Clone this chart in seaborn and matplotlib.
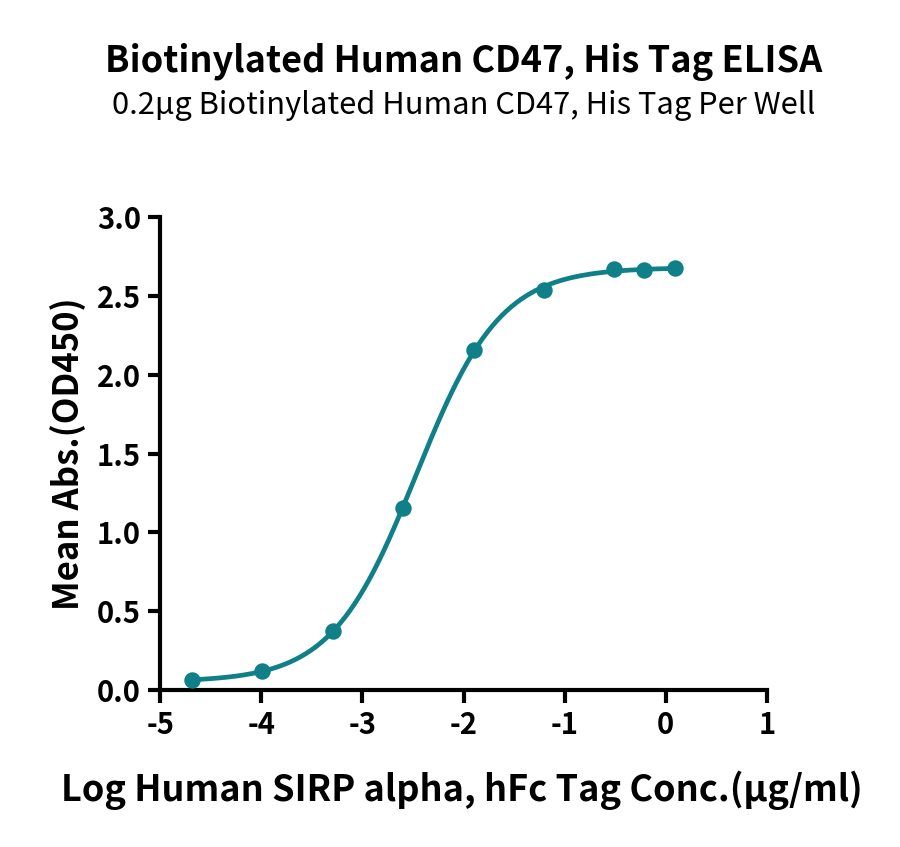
import numpy as np
import pandas as pd
import matplotlib
matplotlib.use("Agg")
import matplotlib.pyplot as plt
import seaborn as sns

# ---- data ----
log_conc = [-4.69, -3.99, -3.29, -2.60, -1.90, -1.20, -0.51, -0.21, 0.09]
mean_abs = [0.063, 0.125, 0.375, 1.155, 2.156, 2.535, 2.668, 2.665, 2.678]
x_ticks = [-5, -4, -3, -2, -1, 0, 1]
y_ticks = [0.0, 0.5, 1.0, 1.5, 2.0, 2.5, 3.0]
title = "Biotinylated Human CD47, His Tag ELISA"
subtitle = "0.2µg Biotinylated Human CD47, His Tag Per Well"
xlabel = "Log Human SIRP alpha, hFc Tag Conc.(µg/ml)"
ylabel = "Mean Abs.(OD450)"

color = "#0f8088"

sns.set_theme(style="ticks")
plt.rcParams['font.family'] = ['Noto Sans CJK SC', 'DejaVu Sans']
plt.rcParams['text.color'] = 'black'
plt.rcParams['axes.labelcolor'] = 'black'
plt.rcParams['xtick.color'] = 'black'
plt.rcParams['ytick.color'] = 'black'

df = pd.DataFrame({"x": log_conc, "y": mean_abs})

# ---- 4PL fit of the points (Levenberg-Marquardt in numpy) ----
xd = np.asarray(log_conc, float)
yd = np.asarray(mean_abs, float)

def f4(p, x):
    bot, top, logec, hill = p
    return bot + (top - bot) / (1 + 10 ** ((logec - x) * hill))

p = np.array([yd.min(), yd.max(), np.median(xd), 1.0])
lam = 1e-2
for _ in range(500):
    r = yd - f4(p, xd)
    J = np.zeros((len(xd), 4))
    for i in range(4):
        dp = np.zeros(4); dp[i] = 1e-6
        J[:, i] = (f4(p + dp, xd) - f4(p - dp, xd)) / 2e-6
    A = J.T @ J
    g = J.T @ r
    step = np.linalg.solve(A + lam * np.diag(np.diag(A)), g)
    pn = p + step
    if np.sum((yd - f4(pn, xd)) ** 2) < np.sum(r ** 2):
        p = pn; lam *= 0.5
    else:
        lam *= 4
xs = np.linspace(xd.min(), xd.max(), 300)
curve = pd.DataFrame({"x": xs, "y": f4(p, xs)})

fig = plt.figure(figsize=(9, 8.47), dpi=100)
ax = fig.add_axes([0.178, 0.185, 0.674, 0.559])

sns.lineplot(data=curve, x="x", y="y", ax=ax, color=color, lw=3.4)
sns.scatterplot(data=df, x="x", y="y", ax=ax, color=color, s=140,
                edgecolor=color, linewidth=0, zorder=5)

ax.set_xlim(-5, 1)
ax.set_ylim(0, 3.0)
ax.set_xticks(x_ticks)
ax.set_yticks(y_ticks)
ax.set_xticklabels([str(t) for t in x_ticks])
ax.set_yticklabels([f"{t:.1f}" for t in y_ticks])
for s in ["top", "right"]:
    ax.spines[s].set_visible(False)
for s in ["left", "bottom"]:
    ax.spines[s].set_linewidth(3.0)
    ax.spines[s].set_color("black")
ax.tick_params(axis="both", width=3.0, length=9, color="black",
               labelsize=21, pad=5)
for lab in ax.get_xticklabels() + ax.get_yticklabels():
    lab.set_fontweight("bold")
ax.set_xlabel(xlabel, fontsize=26, fontweight="bold", labelpad=20)
ax.set_ylabel(ylabel, fontsize=25, fontweight="bold", labelpad=8)
ax.xaxis.set_label_coords((0.513 - 0.178) / 0.674, -0.17)

fig.text(0.515, 0.927, title, ha="center", va="center", fontsize=26, fontweight="bold")
fig.text(0.515, 0.876, subtitle, ha="center", va="center", fontsize=22.2)

fig.savefig("out.png", dpi=100)
